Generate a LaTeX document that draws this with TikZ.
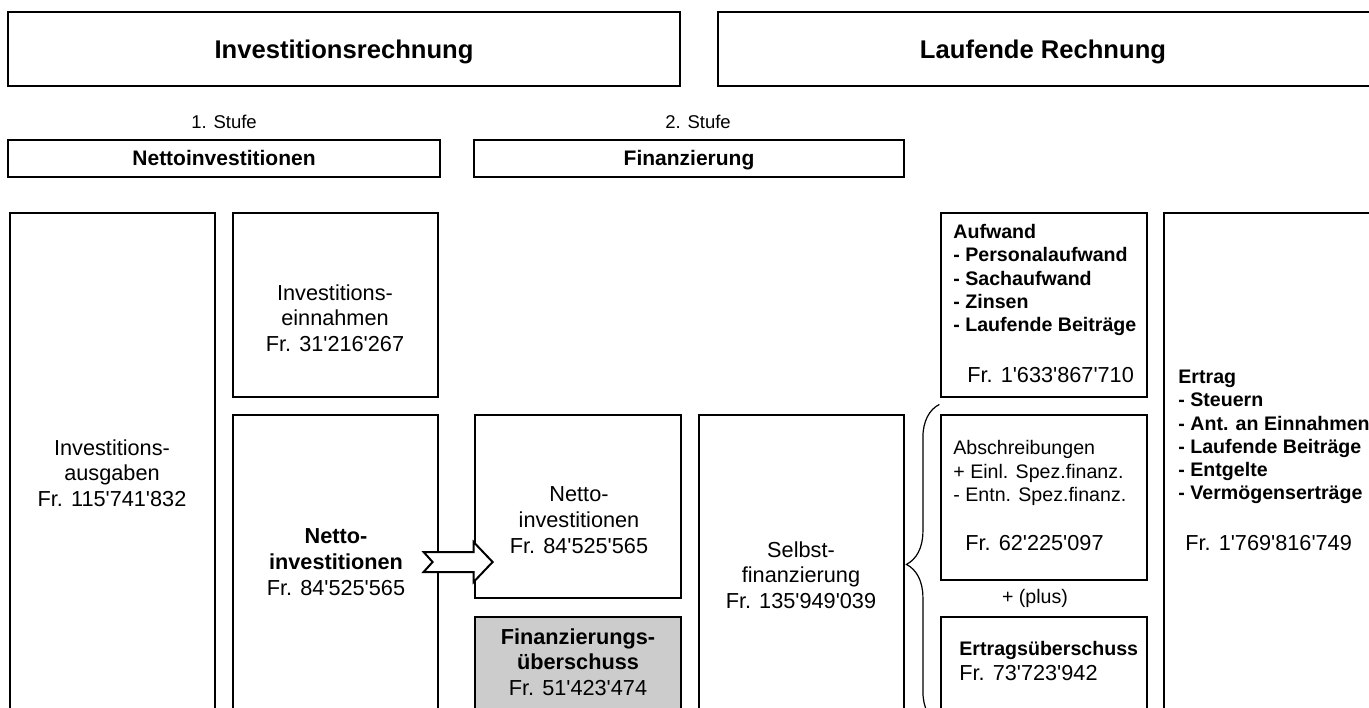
\documentclass[tikz,border=0pt]{standalone}
\usepackage{fontspec}
\setmainfont{Liberation Sans}[Ligatures=TeXOff]
\usepackage{tikz}
\usetikzlibrary{fit, calc, positioning, decorations.pathreplacing}
\definecolor{fincolor}{RGB}{204,204,204}

\newcommand{\bodyfont}{\fontsize{10.85}{12.85}\selectfont}
\newcommand{\listfont}{\fontsize{9.8}{11.65}\selectfont}

\begin{document}
\begin{tikzpicture}[
    x=0.5pt, y=-0.5pt,
    box/.style={draw, line width=0.6pt, inner sep=0pt},
    graybox/.style={box, fill=fincolor},
    title/.style={anchor=base, inner sep=0pt, font=\fontsize{12.8}{15}\selectfont\bfseries},
    stufe/.style={anchor=base, inner sep=0pt, font=\fontsize{9.25}{11}\selectfont},
    head/.style={anchor=base, inner sep=0pt, font=\fontsize{10.5}{12.5}\selectfont\bfseries},
    txt/.style={align=center, inner sep=0pt, font=\bodyfont},
    lst/.style={align=left, inner sep=0pt, anchor=west, font=\listfont},
    amount/.style={inner sep=0pt, anchor=west, font=\bodyfont},
    fatarrow/.style={draw, fill=white, line width=1pt, line join=miter},
    curly/.style={draw, line width=0.6pt, decorate, decoration={brace, amplitude=16.5pt}}
]
    \useasboundingbox (0,0) rectangle (1369,707);

    % Rechnungen
    \node[box, fit={(8,12) (680,86)}] (invr) {};
    \node[box, fit={(718,12) (1375,86)}] (lfr) {};
    \node[title] (invrtext) at (344,58) {Investitionsrechnung};
    \node[title] (lfrtext) at (1043,58) {Laufende Rechnung};

    % Stufen
    \node[box, fit={(8,140) (440,177)}] (hnetto) {};
    \node[box, fit={(474,140) (904,177)}] (hfin) {};
    \node[head] (hnettotext) at (hnetto.center |- 0,165) {Nettoinvestitionen};
    \node[head] (hfintext) at (hfin.center |- 0,165) {Finanzierung};
    \node[stufe] (stufe1) at (224,128) {1. Stufe};
    \node[stufe] (stufe2) at (698,128) {2. Stufe};

    % Boxen
    \node[box, fit={(10,213) (215,760)}] (ausg) {};
    \node[box, fit={(233,213) (438,397)}] (einn) {};
    \node[box, fit={(233,415) (438,760)}] (netto1) {};
    \node[box, fit={(475,415) (681,598)}] (netto2) {};
    \node[graybox, fit={(475,617) (681,760)}] (fin) {};
    \node[box, fit={(699,415) (904,760)}] (selbst) {};
    \node[box, fit={(941,213) (1147,397)}] (aufw) {};
    \node[box, fit={(941,415) (1147,580)}] (absch) {};
    \node[box, fit={(941,617) (1147,760)}] (ertrue) {};
    \node[box, fit={(1164,213) (1375,760)}] (ertrag) {};

    % Texte
    \node[txt] (ausgtext) at (112,473) {Investitions-\\ausgaben\\Fr. 115'741'832};
    \node[txt] (einntext) at (335,318) {Investitions-\\einnahmen\\Fr. 31'216'267};
    \node[txt] (netto1text) at (336,562) {\textbf{Netto-}\\\textbf{investitionen}\\Fr. 84'525'565};
    \node[txt] (netto2text) at (579,520) {Netto-\\investitionen\\Fr. 84'525'565};
    \node[txt] (fintext) at (578,662) {\textbf{Finanzierungs-}\\\textbf{überschuss}\\Fr. 51'423'474};
    \node[txt] (selbsttext) at (801,575) {Selbst-\\finanzierung\\Fr. 135'949'039};

    \node[lst, font=\listfont\bfseries] (aufwtext) at (953,280) {Aufwand\\- Personalaufwand\\- Sachaufwand\\- Zinsen\\- Laufende Beiträge};
    \node[amount] (aufwfr) at (967,375) {Fr. 1'633'867'710};
    \node[lst] (abschtext) at (953,473) {Abschreibungen\\+ Einl. Spez.finanz.\\- Entn. Spez.finanz.};
    \node[amount] (abschfr) at (965,543) {Fr. 62'225'097};
    \node[font=\listfont, inner sep=0pt] (plus) at (1035,598) {+ (plus)};
    \node[lst, font=\listfont\bfseries] (ertruetext) at (959,650) {Ertragsüberschuss};
    \node[amount] (ertruefr) at (959,673) {Fr. 73'723'942};
    \node[lst, font=\listfont\bfseries] (ertragtext) at (1178,437) {Ertrag\\- Steuern\\- Ant. an Einnahmen\\- Laufende Beiträge\\- Entgelte\\- Vermögenserträge};
    \node[amount] (ertragfr) at (1185,543) {Fr. 1'769'816'749};

    % Pfeil
    \coordinate (atail) at ($(netto1.east |- 0,562)+(-15,0)$);
    \draw[fatarrow] (atail) ++(0,-10) -- ++(50,0) -- ++(0,-10) -- ++(19,20) -- ++(-19,20)
        -- ++(0,-10) -- ++(-50,0) -- ++(9,-10) -- cycle;

    % Klammer
    \coordinate (brtop) at ($(absch.north west)+(-1,-10)$);
    \coordinate (brbot) at ($(ertrue.north west)+(-1,108)$);
    \draw[curly] (brbot) -- (brtop);
\end{tikzpicture}
\end{document}
